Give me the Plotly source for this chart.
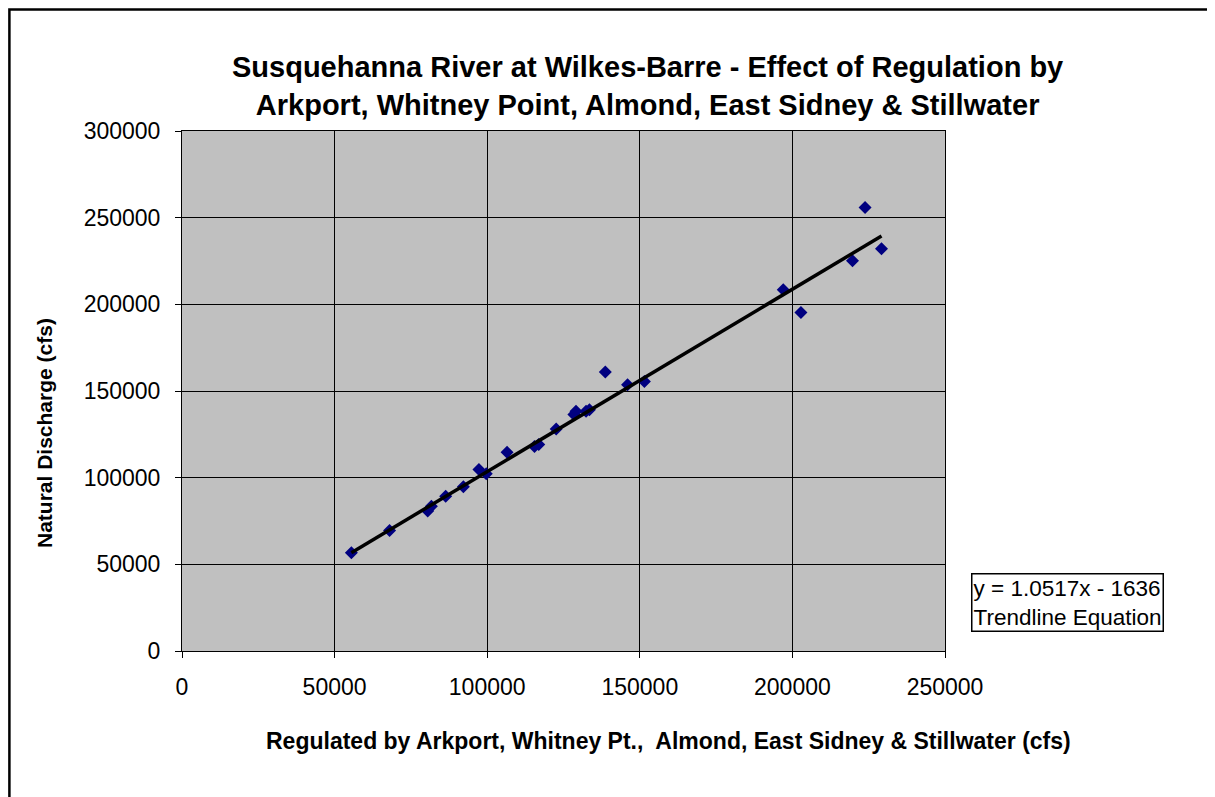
import plotly.graph_objects as go

regulated = [55500, 68000, 80500, 81700, 86400, 92200, 97300, 99700, 106500,
             115500, 116900, 122600, 128400, 129100, 132400, 133500, 138700,
             146000, 151500, 197000, 202800, 219700, 223800, 229200]
natural = [56700, 69500, 80700, 83500, 89300, 94700, 104700, 102200, 114600,
           118000, 119100, 128100, 136400, 138300, 138300, 139200, 161000,
           153600, 155500, 208400, 195300, 225100, 255800, 232000]
slope = 1.0517
intercept = -1636

title_text = ("Susquehanna River at Wilkes-Barre - Effect of Regulation by<br>"
              "Arkport, Whitney Point, Almond, East Sidney & Stillwater")
x_title = "Regulated by Arkport, Whitney Pt.,  Almond, East Sidney & Stillwater (cfs)"
y_title = "Natural Discharge (cfs)"
eq_text = "y = 1.0517x - 1636<br>Trendline Equation"

OFF = 8  # page body margin
W, H = 1215 - OFF, 797 - OFF
L, R, T, B = 182, 945, 131, 651  # plot area in screen pixels
pw, ph = R - L, B - T


def px(x):
    return (x - L) / pw


def py(y):
    return (B - y) / ph


FONT = "Arial, Liberation Sans, sans-serif"

fig = go.Figure()
fig.add_trace(go.Scatter(
    x=regulated, y=natural, mode="markers",
    marker=dict(symbol="diamond", size=10, color="#000080",
                line=dict(width=0)),
    showlegend=False, hoverinfo="x+y"))

xmin, xmax = min(regulated), max(regulated)
fig.add_trace(go.Scatter(
    x=[xmin, xmax], y=[slope * xmin + intercept, slope * xmax + intercept],
    mode="lines", line=dict(color="black", width=3.5),
    showlegend=False, hoverinfo="skip"))

axis_common = dict(
    showgrid=True, gridcolor="black", gridwidth=1,
    showline=True, linecolor="black", linewidth=1, mirror=True,
    ticks="outside", ticklen=6, tickcolor="black", zeroline=False,
    tickfont=dict(family=FONT, size=23, color="black"),
)

fig.update_xaxes(range=[0, 250000], tickvals=[0, 50000, 100000, 150000, 200000, 250000],
                 ticktext=["0", "50000", "100000", "150000", "200000", "250000"],
                 ticklabelstandoff=9, **axis_common)
fig.update_yaxes(range=[0, 300000], tickvals=[0, 50000, 100000, 150000, 200000, 250000, 300000],
                 ticktext=["0", "50000", "100000", "150000", "200000", "250000", "300000"],
                 ticklabelstandoff=10, **axis_common)

annotations = [
    dict(text="<b>" + title_text + "</b>", x=px(647), y=py(86), xref="paper", yref="paper",
         showarrow=False, font=dict(family=FONT, size=29, color="black"),
         xanchor="center", yanchor="middle", align="center"),
    dict(text="<b>" + x_title + "</b>", x=px(668), y=py(741), xref="paper", yref="paper",
         showarrow=False, font=dict(family=FONT, size=23, color="black"),
         xanchor="center", yanchor="middle"),
    dict(text="<b>" + y_title + "</b>", x=px(45), y=py(433), xref="paper", yref="paper",
         showarrow=False, textangle=-90, font=dict(family=FONT, size=21, color="black"),
         xanchor="center", yanchor="middle"),
    dict(text=eq_text, x=px(1067), y=py(602), xref="paper", yref="paper",
         showarrow=False, font=dict(family=FONT, size=22.5, color="black"),
         xanchor="center", yanchor="middle", align="left",
         bordercolor="black", borderwidth=1.5, borderpad=1, bgcolor="white"),
]

edge = OFF + 1.4
shapes = [
    dict(type="rect", xref="paper", yref="paper",
         x0=px(edge), x1=px(1212), y0=py(edge), y1=py(830),
         line=dict(color="black", width=2.5), fillcolor="rgba(0,0,0,0)", layer="below"),
]

fig.update_layout(
    width=W, height=H,
    margin=dict(l=L - OFF, r=W - (R - OFF), t=T - OFF, b=H - (B - OFF), pad=0),
    paper_bgcolor="white", plot_bgcolor="#C0C0C0",
    annotations=annotations, shapes=shapes,
    font=dict(family=FONT, color="black"),
)

fig.write_html("out.html")
